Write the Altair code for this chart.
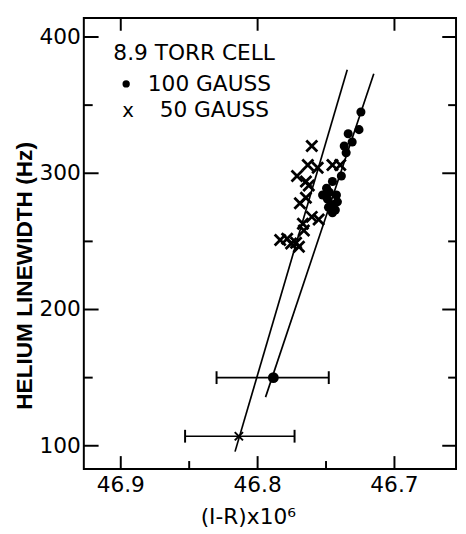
import altair as alt
import pandas as pd

# 100 GAUSS points
dot_x = [46.7245, 46.7259, 46.7338, 46.7309, 46.7367, 46.7353, 46.7388, 46.7453,
         46.7496, 46.7525, 46.7475, 46.7424, 46.7489, 46.7417, 46.7446, 46.7482,
         46.7432, 46.7453]
dot_y = [345, 332, 329, 323, 320, 315, 298, 294, 289, 284, 286, 284, 281, 279,
         277, 275, 273, 271]

# 50 GAUSS points
cross_x = [46.7604, 46.7633, 46.7561, 46.7453, 46.7396, 46.7712, 46.7647, 46.7626,
           46.7691, 46.7647, 46.7604, 46.7554, 46.7669, 46.7662, 46.7835, 46.7784,
           46.7755, 46.7698, 46.7719]
cross_y = [320, 306, 304, 306, 306, 298, 294, 291, 278, 282, 268, 266, 263, 258,
           251, 252, 248.5, 246, 249]

# points with error bars
eb_kind = ["dot", "cross"]
eb_x = [46.7885, 46.8137]
eb_y = [150, 107]
eb_lo = [46.830, 46.853]
eb_hi = [46.748, 46.773]

# fitted straight lines (end points)
line_id = ["50 GAUSS", "50 GAUSS", "100 GAUSS", "100 GAUSS"]
line_x = [46.8165, 46.7345, 46.7942, 46.7151]
line_y = [95.7, 376, 135.7, 373]

x_major = [46.9, 46.8, 46.7]
x_minor = [46.85, 46.75]
y_major = [100, 200, 300, 400]
y_minor = [150, 250, 350]

x_title = "(I-R)x10⁶"
y_title = "HELIUM LINEWIDTH (Hz)"
legend_title = "8.9 TORR CELL"
legend_dot = "100 GAUSS"
legend_cross = "50 GAUSS"

W, H = 378, 458
FONT = "DejaVu Sans"

dots = pd.DataFrame({"x": dot_x, "y": dot_y})
crosses = pd.DataFrame({"x": cross_x, "y": cross_y})
eb = pd.DataFrame({"kind": eb_kind, "x": eb_x, "y": eb_y, "lo": eb_lo, "hi": eb_hi})
caps = pd.DataFrame({"x": eb_lo + eb_hi, "y": eb_y + eb_y})
lines = pd.DataFrame({"id": line_id, "x": line_x, "y": line_y})

xs = alt.Scale(domain=[46.655, 46.927], reverse=True, nice=False, zero=False)
ys = alt.Scale(domain=[83, 414], nice=False, zero=False)


def X(field="x"):
    return alt.X(f"{field}:Q", scale=xs, axis=None)


def Y(field="y"):
    return alt.Y(f"{field}:Q", scale=ys, axis=None)


X_SHAPE = "M-1,-1L1,1M-1,1L1,-1"

main = alt.Chart(dots).mark_point(filled=True, shape="circle", size=85,
                                  color="black", opacity=1).encode(x=X(), y=Y())

cross_layer = alt.Chart(crosses).mark_point(shape=X_SHAPE, filled=False, size=125,
                                            strokeWidth=2.8, color="black",
                                            opacity=1).encode(x=X(), y=Y())

line_layer = alt.Chart(lines).mark_line(color="black", strokeWidth=1.7).encode(
    x=X(), y=Y(), detail="id:N")

rule_layer = alt.Chart(eb).mark_rule(color="black", strokeWidth=1.7).encode(
    x=X("lo"), x2="hi:Q", y=Y())

cap_layer = alt.Chart(caps).mark_tick(orient="vertical", size=13, thickness=2,
                                      color="black", opacity=1).encode(x=X(), y=Y())

eb_dot = alt.Chart(eb).transform_filter(alt.datum.kind == "dot").mark_point(
    filled=True, shape="circle", size=120, color="black", opacity=1).encode(
    x=X(), y=Y())

eb_cross = alt.Chart(eb).transform_filter(alt.datum.kind == "cross").mark_point(
    shape=X_SHAPE, filled=False, size=70, strokeWidth=2, color="black",
    opacity=1).encode(x=X(), y=Y())


# inward frame ticks: one-sided line symbols placed through the scales
def tick_mark(values, length, shape, x_px=None, y_px=None, horizontal=False):
    df = pd.DataFrame({"tv": values})
    mk = alt.Chart(df).mark_point(shape=shape, filled=False, size=(2 * length) ** 2,
                                  strokeWidth=2, color="black", opacity=1)
    if horizontal:
        return mk.encode(y=Y("tv"), x=alt.value(x_px))
    return mk.encode(x=X("tv"), y=alt.value(y_px))


UP, DOWN, RIGHT, LEFT = "M0,0L0,-1", "M0,0L0,1", "M0,0L1,0", "M0,0L-1,0"
tick_layers = [
    tick_mark(x_major, 13, UP, y_px=H),
    tick_mark(x_minor, 8, UP, y_px=H),
    tick_mark(x_major, 13, DOWN, y_px=0),
    tick_mark(y_major, 15, RIGHT, x_px=0, horizontal=True),
    tick_mark(y_minor, 9, RIGHT, x_px=0, horizontal=True),
    tick_mark(y_major, 14, LEFT, x_px=W, horizontal=True),
    tick_mark(y_minor, 8, LEFT, x_px=W, horizontal=True),
]

# tick labels and axis titles, drawn as text through the same scales
x_labels = alt.Chart(pd.DataFrame({"lab": x_major})).mark_text(
    align="center", baseline="top", font=FONT, fontSize=22, color="black").encode(
    x=X("lab"), y=alt.value(H + 6), text=alt.Text("lab:Q", format=".1f"))
y_labels = alt.Chart(pd.DataFrame({"lab": y_major})).mark_text(
    align="right", baseline="middle", font=FONT, fontSize=22, color="black").encode(
    y=Y("lab"), x=alt.value(-3), text=alt.Text("lab:Q", format="d"))
x_title_layer = alt.Chart(pd.DataFrame({"t": [x_title]})).mark_text(
    align="center", baseline="alphabetic", font=FONT, fontSize=22,
    color="black").encode(text="t:N", x=alt.value(167), y=alt.value(H + 56))
y_title_layer = alt.Chart(pd.DataFrame({"t": [y_title]})).mark_text(
    align="center", baseline="middle", angle=270, font="Liberation Sans",
    fontSize=23, fontWeight="bold", color="black").encode(
    text="t:N", x=alt.value(-60), y=alt.value(262))

t1 = alt.Chart(pd.DataFrame({"t": [legend_title]})).mark_text(
    align="left", baseline="alphabetic", font=FONT, fontSize=22, color="black").encode(
    text="t:N", x=alt.value(30), y=alt.value(43))
t2 = alt.Chart(pd.DataFrame({"t": [legend_dot]})).mark_text(
    align="left", baseline="alphabetic", font=FONT, fontSize=22, color="black").encode(
    text="t:N", x=alt.value(65), y=alt.value(74))
t3 = alt.Chart(pd.DataFrame({"t": [legend_cross]})).mark_text(
    align="left", baseline="alphabetic", font=FONT, fontSize=22, color="black").encode(
    text="t:N", x=alt.value(77), y=alt.value(101))
bullet = alt.Chart(pd.DataFrame({"t": ["dot"]})).mark_point(
    filled=True, shape="circle", size=55, color="black", opacity=1).encode(
    x=alt.value(43), y=alt.value(67))
xmark = alt.Chart(pd.DataFrame({"t": ["x"]})).mark_text(
    align="center", baseline="alphabetic", font=FONT, fontSize=20, color="black").encode(
    text="t:N", x=alt.value(45), y=alt.value(101))

chart = alt.layer(
    main, cross_layer, line_layer, rule_layer, cap_layer, eb_dot, eb_cross,
    *tick_layers, x_labels, y_labels, x_title_layer, y_title_layer,
    t1, t2, t3, bullet, xmark,
).properties(
    width=W, height=H,
    autosize=alt.AutoSizeParams(type="none"),
    padding={"left": 77, "top": 6, "right": 2, "bottom": 62},
).configure_view(stroke="black", strokeWidth=2)

chart.save("out.html", embed_options={"renderer": "svg", "actions": False})
